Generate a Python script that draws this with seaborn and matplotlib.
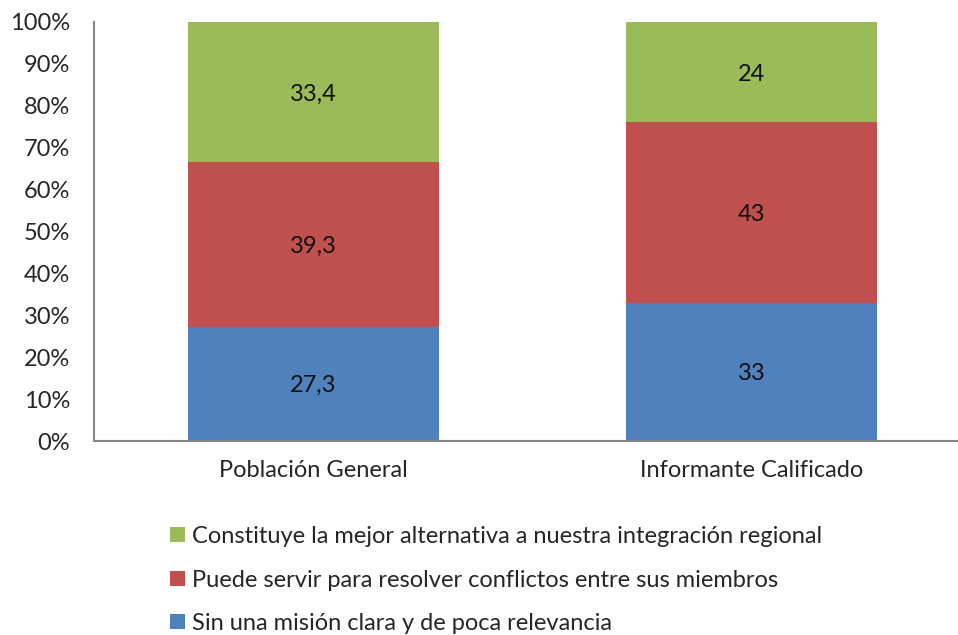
import numpy as np
import pandas as pd
import matplotlib
matplotlib.use('Agg')
import matplotlib.pyplot as plt
from matplotlib.patches import Patch
import seaborn as sns

# data
categories = ['Población General', 'Informante Calificado']
sin_mision = [27.3, 33]
resolver = [39.3, 43]
mejor_alt = [33.4, 24]
series_names = ['Sin una misión clara y de poca relevancia',
                'Puede servir para resolver conflictos entre sus miembros',
                'Constituye la mejor alternativa a nuestra integración regional']
colors = ['#4F81BD', '#C0504D', '#9BBB59']

sns.set_style('white')
plt.rcParams['font.family'] = ['Lato', 'DejaVu Sans']

df = pd.DataFrame({'cat': categories, 's1': sin_mision, 's2': resolver, 's3': mejor_alt})
df['c1'] = df.s1
df['c2'] = df.s1 + df.s2
df['c3'] = df.s1 + df.s2 + df.s3

fig = plt.figure(figsize=(9.58, 6.35), dpi=100)
ax = fig.add_axes([0.098, 0.3055, 0.902, 0.66])

# draw cumulative bars, tallest first
for col, c in zip(['c3', 'c2', 'c1'], colors[::-1]):
    sns.barplot(data=df, x='cat', y=col, color=c, width=0.572, saturation=1, ax=ax, edgecolor='none')

# segment labels
for i in range(len(categories)):
    base = 0
    for s in ['s1', 's2', 's3']:
        v = df[s][i]
        ax.text(i, base + v / 2, f'{v:g}'.replace('.', ','), ha='center', va='center_baseline',
                fontsize=17, color='#111111')
        base += v

ax.set_ylim(0, 100)
ax.set_xlim(-0.5, 1.47)
ax.set_yticks(np.arange(0, 101, 10))
ax.set_yticklabels([f'{t}%' for t in range(0, 101, 10)])
ax.set_xlabel('')
ax.set_ylabel('')
ax.tick_params(axis='both', length=0, labelsize=17)
ax.tick_params(axis='y', pad=17)
ax.tick_params(axis='x', pad=14)
for sp in ['top', 'right']:
    ax.spines[sp].set_visible(False)
for sp in ['left', 'bottom']:
    ax.spines[sp].set_color('#888888')
    ax.spines[sp].set_linewidth(1.5)

handles = [Patch(facecolor=c, edgecolor='none') for c in colors[::-1]]
fig.legend(handles, series_names[::-1], loc='upper left', bbox_to_anchor=(0.165, 0.19),
           frameon=False, fontsize=17, handlelength=0.62, handleheight=0.62,
           handletextpad=0.3, labelspacing=0.95, borderpad=0)

fig.savefig('out.png', dpi=100)
